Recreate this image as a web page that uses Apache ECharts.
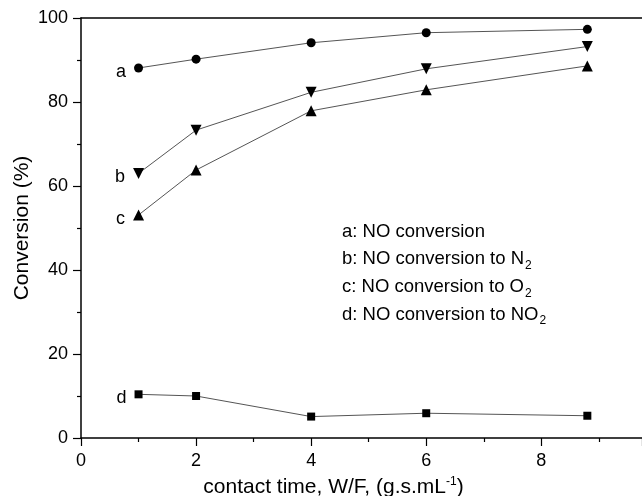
<!DOCTYPE html>
<html>
<head>
<meta charset="utf-8">
<script src="https://cdn.jsdelivr.net/npm/echarts@6/dist/echarts.min.js"></script>
<style>
  html, body { margin: 0; padding: 0; background: #fff; }
  #chart { width: 642px; height: 496px; }
</style>
</head>
<body>
<div id="chart"></div>
<script>
// contact time W/F (g.s.mL-1)
const contactTime = [1, 2, 4, 6, 8.8];
const noConversion = [88.1, 90.2, 94.1, 96.5, 97.3];
const toN2 = [63.0, 73.3, 82.3, 87.9, 93.2];
const toO2 = [53.1, 63.8, 77.9, 82.9, 88.6];
const toNO2 = [10.4, 10.0, 5.1, 5.9, 5.3];
const seriesTags = ["a", "b", "c", "d"];
const xTicks = [0, 2, 4, 6, 8];
const yTicks = [0, 20, 40, 60, 80, 100];

const font = "Liberation Sans, Arial, sans-serif";

function pairs(ys, tag) {
  return ys.map(function (y, i) {
    const item = { value: [contactTime[i], y] };
    if (i === 0) {
      item.label = {
        show: true,
        formatter: tag,
        position: "left",
        distance: 8,
        offset: [0, 4],
        color: "#000",
        fontSize: 18,
        fontFamily: font
      };
    }
    return item;
  });
}

function makeSeries(ys, tag, symbol, size, rotate) {
  return {
    type: "line",
    data: pairs(ys, tag),
    symbol: symbol,
    symbolSize: size,
    symbolRotate: rotate || 0,
    showAllSymbol: true,
    itemStyle: { color: "#000" },
    lineStyle: { color: "#555", width: 1 },
    z: 3
  };
}

let myChart = echarts.init(document.getElementById("chart"));
let option = {
  animation: false,
  backgroundColor: "#fff",
  grid: { left: 81, right: 0, top: 18, bottom: 58, containLabel: false, outerBoundsMode: "none" },
  xAxis: [
    {
      type: "value",
      min: 0,
      max: 9.75,
      interval: 2,
      name: "{t|contact time, W/F, (g.s.mL}{s|-1}{t|)}",
      nameLocation: "middle",
      nameGap: 38,
      nameMoveOverlap: false,
      nameTextStyle: {
        padding: [0, 56, 0, 0],
        rich: {
          t: { fontSize: 21, fontFamily: font, color: "#000" },
          s: { fontSize: 12, fontFamily: font, color: "#000", verticalAlign: "top", padding: [0, 0, 11, 0] }
        }
      },
      axisLine: { show: true, lineStyle: { color: "#000", width: 1.5 } },
      axisTick: { show: true, inside: false, length: 8, lineStyle: { color: "#000", width: 1.2 } },
      minorTick: { show: true, splitNumber: 2, length: 4, lineStyle: { color: "#000", width: 1.2 } },
      axisLabel: {
        color: "#000",
        fontSize: 18,
        fontFamily: font,
        margin: 14,
        showMaxLabel: false,
        formatter: function (v) { return xTicks.indexOf(v) >= 0 ? String(v) : ""; }
      },
      splitLine: { show: false }
    },
    {
      type: "value",
      position: "top",
      min: 0,
      max: 9.75,
      axisLine: { show: true, lineStyle: { color: "#000", width: 1.5 } },
      axisTick: { show: false },
      axisLabel: { show: false },
      splitLine: { show: false }
    }
  ],
  yAxis: {
    type: "value",
    min: 0,
    max: 100,
    interval: 20,
    name: "Conversion (%)",
    nameLocation: "middle",
    nameGap: 48,
    nameMoveOverlap: false,
    nameTextStyle: { color: "#000", fontSize: 21, fontFamily: font },
    axisLine: { show: true, lineStyle: { color: "#000", width: 1.5 } },
    axisTick: { show: true, inside: false, length: 8, lineStyle: { color: "#000", width: 1.2 } },
    minorTick: { show: true, splitNumber: 2, length: 4, lineStyle: { color: "#000", width: 1.2 } },
    axisLabel: {
      color: "#000",
      fontSize: 18,
      fontFamily: font,
      margin: 13,
      formatter: function (v) { return yTicks.indexOf(v) >= 0 ? String(v) : ""; }
    },
    splitLine: { show: false }
  },
  graphic: [
    {
      type: "text",
      left: 342,
      top: 222,
      style: {
        text: "{t|a: NO conversion}\n{t|b: NO conversion to N}{s|2}\n{t|c: NO conversion to O}{s|2}\n{t|d: NO conversion to NO}{s|2}",
        rich: {
          t: { fontSize: 18.5, fontFamily: font, fill: "#000", lineHeight: 27.7 },
          s: { fontSize: 12, fontFamily: font, fill: "#000", lineHeight: 27.7, padding: [13, 0, 0, 1] }
        }
      }
    }
  ],
  series: [
    makeSeries(noConversion, seriesTags[0], "circle", 9),
    makeSeries(toN2, seriesTags[1], "triangle", 11, 180),
    makeSeries(toO2, seriesTags[2], "triangle", 11),
    makeSeries(toNO2, seriesTags[3], "rect", 8)
  ]
};
myChart.setOption(option);
window.addEventListener("resize", () => {
  myChart.resize();
});
</script>
</body>
</html>
